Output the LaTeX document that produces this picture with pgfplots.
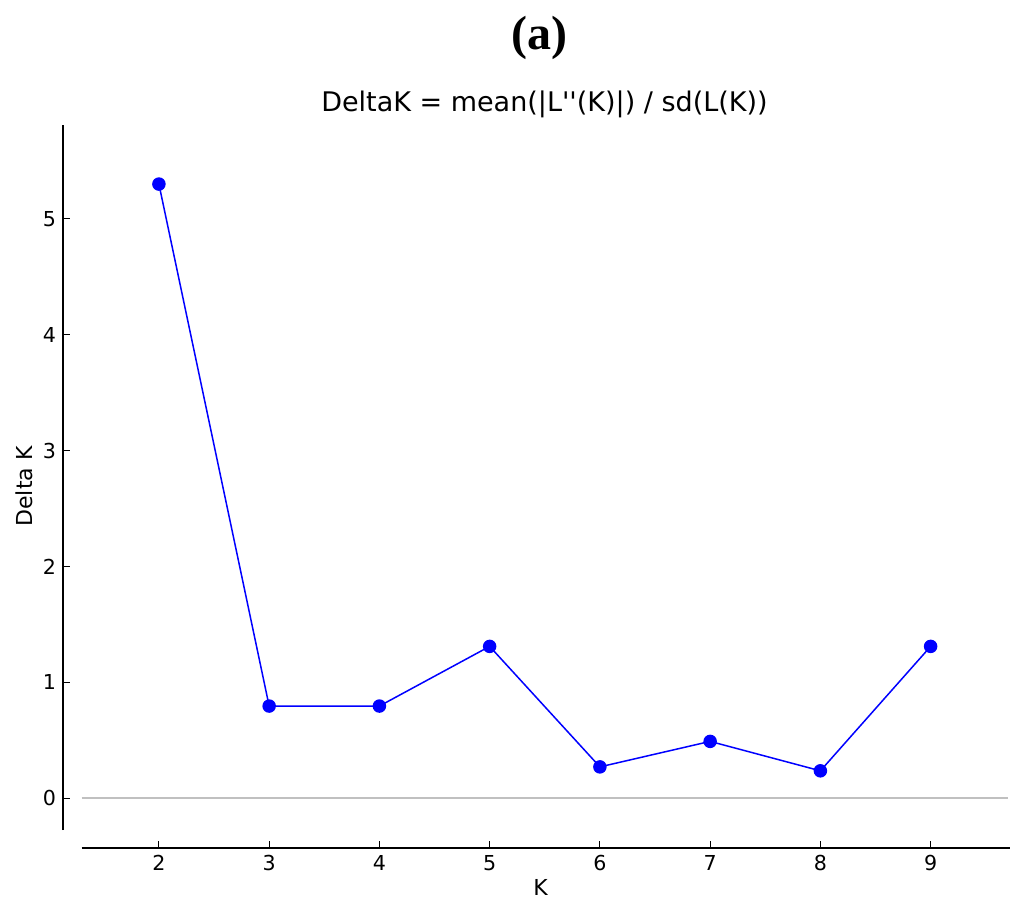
\documentclass[border=0pt]{standalone}
\usepackage{fontspec}
\setmainfont{DejaVu Sans}
\newfontfamily\titlefont{DejaVu Sans}[Ligatures=TeXOff]
\newfontfamily\timesb{Liberation Serif}
\usepackage{pgfplots}
\pgfplotsset{compat=1.18}
\definecolor{zeroline}{RGB}{192,192,192}
\definecolor{lineblue}{RGB}{0,0,255}

\begin{document}
\begin{tikzpicture}
  \begin{axis}[
      name=ax,
      scale only axis,
      width=473.5pt, height=361.5pt,
      xmin=1.13, xmax=9.72,
      ymin=-0.43, ymax=5.81,
      axis x line*=bottom, axis y line*=left,
      axis line style={draw=none, -},
      xtick={2,3,4,5,6,7,8,9},
      ytick={0,1,2,3,4,5},
      tick align=inside,
      major tick length=3.5pt,
      tick style={black, line width=0.5pt},
      ticklabel style={font=\fontsize{10.3}{12}\selectfont},
      /pgf/number format/assume math mode=true,
      xlabel={K}, ylabel={Delta K},
      every axis x label/.style={at={(rel axis cs:0.5,0)}, yshift=-19.5pt, xshift=2pt, anchor=center},
      every axis y label/.style={at={(rel axis cs:0,0.5)}, xshift=-19.5pt, rotate=90, anchor=center},
      label style={font=\fontsize{11}{13}\selectfont},
      clip=false,
    ]
    % detached spines
    \draw[black, line width=1pt] (axis cs:1.13,-0.276) -- (axis cs:1.13,5.81);
    \draw[black, line width=1pt] (axis cs:1.30,-0.43) -- (axis cs:9.72,-0.43);
    % zero line
    \draw[zeroline, line width=0.75pt] (axis cs:1.30,0) -- (axis cs:9.70,0);

    \addplot[lineblue, line width=0.75pt, mark=*, mark size=3pt,
      mark options={fill=lineblue, draw=lineblue}]
      coordinates {
      (2, 5.30) (3, 0.795) (4, 0.795) (5, 1.31)
      (6, 0.27) (7, 0.49) (8, 0.236) (9, 1.31)
      };
  \end{axis}

  \node[anchor=center, font=\titlefont\fontsize{13.5}{16}\selectfont]
    at ([xshift=4pt, yshift=10.5pt]ax.north) {DeltaK = mean(|L''(K)|) / sd(L(K))};
  \node[anchor=center, font=\timesb\bfseries\fontsize{24}{28}\selectfont]
    at ([xshift=1.5pt, yshift=43.5pt]ax.north) {(a)};

  \pgfresetboundingbox
  \path[use as bounding box] ([shift={(-31.5pt,-31pt)}]ax.south west)
    rectangle ([shift={(480.5pt,424pt)}]ax.south west);
\end{tikzpicture}
\end{document}
